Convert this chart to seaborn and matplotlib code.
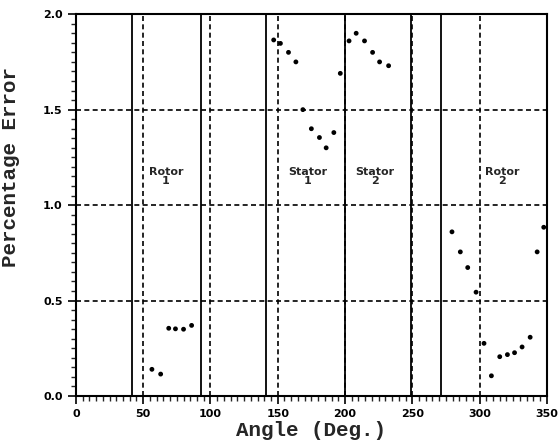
import matplotlib
matplotlib.use("Agg")
import matplotlib.pyplot as plt
import pandas as pd
import seaborn as sns

# data
angle = [56.5, 63, 69, 74, 80, 86,
         147, 152, 158, 163.5, 168.7, 175, 181, 186, 191.7, 196.5,
         203, 208.3, 214.5, 220.5, 225.7, 232.4,
         279.5, 285.7, 291.2, 297.4, 303.3, 308.8, 315, 320.7, 326, 331.6, 337.6, 342.8, 347.7]
error = [0.14, 0.115, 0.355, 0.352, 0.35, 0.37,
         1.865, 1.847, 1.80, 1.75, 1.50, 1.40, 1.354, 1.30, 1.38, 1.69,
         1.86, 1.90, 1.86, 1.80, 1.75, 1.73,
         0.86, 0.755, 0.673, 0.544, 0.276, 0.106, 0.206, 0.217, 0.227, 0.257, 0.308, 0.755, 0.884]

boundaries = [42, 93, 141, 200, 249, 271]
region_names = ["Rotor\n1", "Stator\n1", "Stator\n2", "Rotor\n2"]
region_x = [67, 172, 222.5, 317]

df = pd.DataFrame({"angle": angle, "error": error})

sns.set_style("ticks")
fig = plt.figure(figsize=(5.58, 4.43), dpi=100)
ax = fig.add_axes([0.136, 0.106, 0.844, 0.862])

# dashed grid
for gx in range(50, 350, 50):
    ax.axvline(gx, color="black", lw=1.2, ls=(0, (3, 2)), zorder=1)
for gy in [0.5, 1.0, 1.5]:
    ax.axhline(gy, color="black", lw=1.2, ls=(0, (3, 2)), zorder=1)

# solid boundary lines
for b in boundaries:
    ax.axvline(b, color="black", lw=1.3, zorder=2)

sns.scatterplot(data=df, x="angle", y="error", color="black", s=12,
                edgecolor="none", ax=ax, zorder=3)

for name, xpos in zip(region_names, region_x):
    ax.text(xpos, 1.15, name, ha="center", va="center", fontsize=8,
            fontweight="bold", linespacing=0.9)

ax.set_xlim(0, 350)
ax.set_ylim(0, 2.0)
ax.set_xticks(range(0, 351, 50))
ax.set_yticks([0.0, 0.5, 1.0, 1.5, 2.0])
ax.set_yticklabels(["0.0", "0.5", "1.0", "1.5", "2.0"])
ax.set_xticks(range(0, 351, 5), minor=True)
ax.set_yticks([i * 0.05 for i in range(41)], minor=True)
ax.tick_params(which="major", length=6, width=1.2, labelsize=8, colors="black")
ax.tick_params(which="minor", length=3.5, width=1.0)
for lab in ax.get_xticklabels() + ax.get_yticklabels():
    lab.set_fontweight("bold")

for sp in ax.spines.values():
    sp.set_color("black")
    sp.set_linewidth(1.5)

ax.set_xlabel("Angle (Deg.)", fontsize=15, family="Liberation Mono",
              fontweight="bold", labelpad=1)
ax.set_ylabel("Percentage Error", fontsize=15, family="Liberation Mono",
              fontweight="bold")
ax.yaxis.set_label_coords(-0.119, 0.60)

fig.savefig("out.png", dpi=100)
